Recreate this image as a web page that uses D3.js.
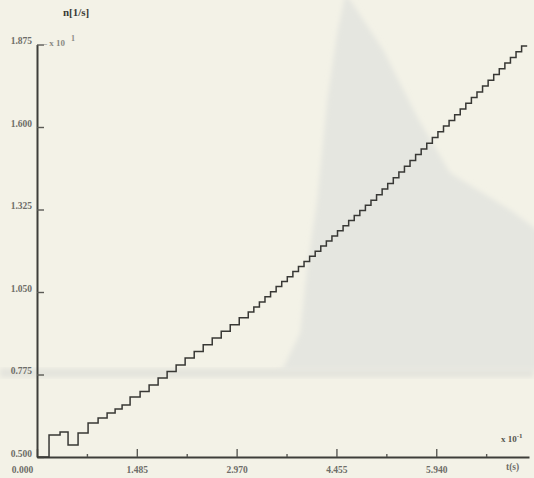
<!DOCTYPE html>
<html>
<head>
<meta charset="utf-8">
<script src="https://cdn.jsdelivr.net/npm/d3@7/dist/d3.min.js"></script>
<style>
  html, body { margin: 0; padding: 0; background: #f3f2e7; }
  svg { display: block; }
  .lbl { font-family: "Liberation Serif", "DejaVu Serif", serif; font-weight: bold; fill: #6d6d68; }
</style>
</head>
<body>
<svg id="chart" width="534" height="478"></svg>
<script>
// Time bin edges t (units of 10^-1 s) and count rate n (units of 10^1 1/s) per bin
const binEdges = [0.000, 0.179, 0.343, 0.462, 0.611, 0.760, 0.909, 1.043, 1.162, 1.266, 1.385,
  1.534, 1.668, 1.802, 1.936, 2.070, 2.204, 2.339, 2.473, 2.607, 2.741, 2.875, 3.009,
  3.143, 3.226, 3.309, 3.392, 3.475, 3.558, 3.641, 3.724, 3.807, 3.890, 3.973, 4.056,
  4.139, 4.222, 4.305, 4.388, 4.471, 4.554, 4.637, 4.720, 4.803, 4.886, 4.969, 5.052,
  5.135, 5.218, 5.301, 5.384, 5.467, 5.550, 5.633, 5.716, 5.799, 5.882, 5.965, 6.048,
  6.131, 6.214, 6.297, 6.380, 6.463, 6.546, 6.629, 6.712, 6.795, 6.878, 6.961, 7.044,
  7.127, 7.210, 7.293];
const rates = [0.500, 0.573, 0.583, 0.540, 0.580, 0.613, 0.630, 0.647, 0.660, 0.673, 0.700,
  0.718, 0.740, 0.763, 0.785, 0.807, 0.830, 0.852, 0.874, 0.897, 0.919, 0.941, 0.964,
  0.983, 1.000, 1.017, 1.034, 1.051, 1.068, 1.085, 1.101, 1.118, 1.135, 1.152, 1.169,
  1.186, 1.203, 1.220, 1.237, 1.254, 1.271, 1.288, 1.305, 1.322, 1.339, 1.356, 1.374,
  1.393, 1.412, 1.431, 1.450, 1.469, 1.488, 1.508, 1.527, 1.546, 1.565, 1.584, 1.603,
  1.622, 1.641, 1.660, 1.679, 1.698, 1.717, 1.737, 1.756, 1.775, 1.794, 1.813, 1.832,
  1.851, 1.870];

// Axis ticks and their labels
const xTicks = [0, 1.485, 2.970, 4.455, 5.940];
const xTickLabels = ["0.000", "1.485", "2.970", "4.455", "5.940"];
const xMinorTicks = [0.7425, 2.2275, 3.7125, 5.1975, 6.6825];
const yTicks = [0.500, 0.775, 1.050, 1.325, 1.600, 1.875];
const yTickLabels = ["0.500", "0.775", "1.050", "1.325", "1.600", "1.875"];

// Pulse-height profile shown faintly behind the curve
const profileT = [3.55, 3.662, 3.916, 4.020, 4.169, 4.318, 4.466, 4.586, 4.660, 5.151, 5.657, 6.149, 7.042, 7.45, 7.45];
const profileN = [0.790, 0.797, 0.913, 1.133, 1.357, 1.690, 1.913, 2.040, 2.023, 1.857, 1.633, 1.447, 1.323, 1.255, 0.790];
const bandLevel = [0.782];

const svg = d3.select("#chart");
const W = 534, H = 478;

const x = d3.scaleLinear().domain([0, 7.32]).range([37, 529]);
const y = d3.scaleLinear().domain([0.5, 1.875]).range([457, 44.5]);

const defs = svg.append("defs");
defs.append("filter").attr("id", "soft")
  .append("feGaussianBlur").attr("stdDeviation", 2.5);

// paper background
svg.append("rect").attr("width", W).attr("height", H).attr("fill", "#f3f2e7");

// faint horizontal band
svg.append("rect")
  .attr("x", 0).attr("width", W)
  .attr("y", y(bandLevel[0]) - 4).attr("height", 9)
  .attr("fill", "#e4e4dd").attr("filter", "url(#soft)");

// faint profile area
const profile = profileT.map((t, i) => [t, profileN[i]]);
svg.append("path")
  .datum(profile)
  .attr("d", d3.line().x(d => x(d[0])).y(d => y(d[1])).curve(d3.curveLinear))
  .attr("fill", "#e5e6e0")
  .attr("filter", "url(#soft)");

// axes
const xAxis = svg.append("g")
  .attr("transform", `translate(0,${y(0.5)})`)
  .call(d3.axisBottom(x).tickValues(xTicks).tickSize(-8).tickSizeOuter(0)
    .tickPadding(9).tickFormat((d, i) => xTickLabels[i]));
const xMinor = svg.append("g")
  .attr("transform", `translate(0,${y(0.5)})`)
  .call(d3.axisBottom(x).tickValues(xMinorTicks).tickSize(-3).tickSizeOuter(0).tickFormat(""));
xMinor.select(".domain").remove();

const yAxis = svg.append("g")
  .attr("transform", `translate(${x(0)},0)`)
  .call(d3.axisLeft(y).tickValues(yTicks).tickSize(-7).tickSizeOuter(0)
    .tickPadding(5).tickFormat((d, i) => yTickLabels[i]));

[xAxis, xMinor, yAxis].forEach(g => {
  g.selectAll(".domain").attr("stroke", "#3e3e3a").attr("stroke-width", 2);
  g.selectAll(".tick line").attr("stroke", "#5a5a55").attr("stroke-width", 1.4);
});
xAxis.selectAll(".tick text")
  .attr("class", "lbl").attr("font-size", 9.5)
  .attr("dx", (d, i) => i === 0 ? -15 : 0);
yAxis.selectAll(".tick text")
  .attr("class", "lbl").attr("font-size", 9.5)
  .attr("dy", "-0.1em");

// step curve
const pts = binEdges.map((t, i) => [t, rates[Math.min(i, rates.length - 1)]]);
svg.append("path")
  .datum(pts)
  .attr("d", d3.line().x(d => x(d[0])).y(d => y(d[1])).curve(d3.curveStepAfter))
  .attr("fill", "none")
  .attr("stroke", "#383835")
  .attr("stroke-width", 1.5)
  .attr("stroke-linejoin", "miter");

// axis titles and multipliers
svg.append("text").attr("class", "lbl")
  .attr("x", 63).attr("y", 16).attr("font-size", 11).style("fill", "#3a3a36")
  .text("n[1/s]");
const ym = svg.append("text").attr("class", "lbl")
  .attr("x", 38).attr("y", 46).attr("font-size", 9).style("fill", "#8a8a84");
ym.append("tspan").text("\u2014 x 10");
ym.append("tspan").attr("dx", 6).attr("dy", -5).attr("font-size", 8).text("1");

const xm = svg.append("text").attr("class", "lbl")
  .attr("x", 501).attr("y", 442).attr("font-size", 9).style("fill", "#55554f");
xm.append("tspan").text("x 10");
xm.append("tspan").attr("dy", -4).attr("font-size", 7).text("-1");

svg.append("text").attr("class", "lbl")
  .attr("x", 506).attr("y", 470).attr("font-size", 9.5)
  .text("t(s)");
</script>
</body>
</html>
